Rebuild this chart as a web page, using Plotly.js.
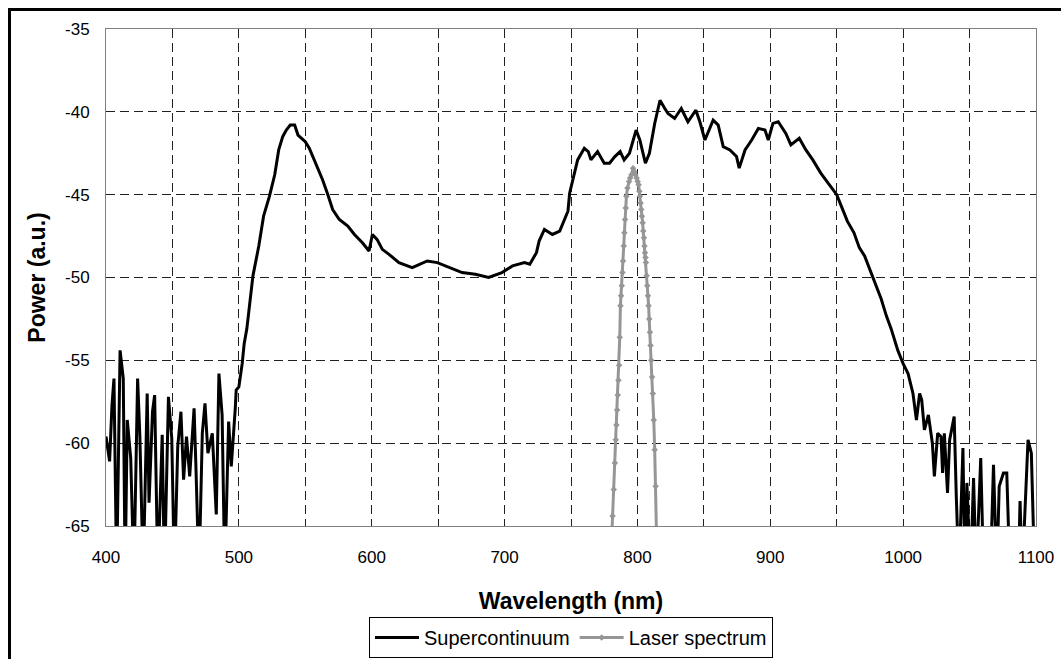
<!DOCTYPE html>
<html>
<head>
<meta charset="utf-8">
<script src="https://cdn.plot.ly/plotly-3.0.1.min.js"></script>
<style>
  html, body { margin: 0; padding: 0; background: #fff; }
  #wrap { position: relative; width: 1061px; height: 659px; overflow: hidden; }
  #chart { position: absolute; left: 0; top: 0; width: 1061px; height: 659px; }
  #frameTop { position: absolute; left: 8px; top: 8px; width: 1100px; height: 3px; background: #000; }
  #frameLeft { position: absolute; left: 8px; top: 8px; width: 3px; height: 700px; background: #000; }
</style>
</head>
<body>
<div id="wrap">
  <div id="chart"></div>
  <div id="frameTop"></div>
  <div id="frameLeft"></div>
</div>
<script>
// Supercontinuum spectrum (wavelength nm, power a.u.) — values below -65 are clipped by the axis
const scWavelength = [
  400, 402.7, 404.5, 406, 408, 410.6, 413, 414.4, 416, 418.6, 421, 423.8, 425.5, 428, 431, 432.4,
  435, 436.6, 439, 442.3, 444, 447, 449.5, 451.5, 454, 456.4, 458.4, 460.6, 463, 466.3, 467.6,
  470, 472.5, 474.5, 476.7, 480, 483, 485, 487.4, 489.4, 492.3, 494.3, 497.3, 498, 500, 502.5,
  504, 506, 510.6, 515, 518.6, 523, 527, 530, 533, 535.7, 538.7, 542, 544.5, 550, 553, 558, 563,
  567, 570.6, 575.6, 582, 587, 593, 598, 600.5, 604, 608, 613, 620.5, 630.5, 635.6, 641.8, 649.4,
  658, 668, 678, 688, 698, 706, 715, 719, 724, 726, 730, 736, 741.5, 745, 747.7, 749, 751.5, 755,
  760, 763, 765, 770, 775, 779, 783, 787, 790, 794, 799, 801.8, 806, 809, 813, 817, 820.6, 823,
  828, 833, 838, 844, 847, 850.8, 857, 860.8, 864.6, 869.6, 874.6, 876.6, 881, 886, 891, 896,
  898.5, 902, 906, 911.7, 915.5, 921.8, 926.8, 932, 938, 944.5, 950, 953, 958, 963, 967, 971,
  974.7, 978.5, 983.5, 987.3, 991, 996, 1000, 1003.7, 1007.4, 1010, 1012.4, 1014, 1016, 1019,
  1022, 1023.5, 1026, 1028.5, 1029.7, 1031, 1033.4, 1035, 1038.4, 1040, 1042, 1045, 1046.5,
  1048, 1050.7, 1053, 1055, 1058.4, 1060.6, 1065.6, 1068, 1070.5, 1072.3, 1075.5, 1078, 1080.4,
  1086.6, 1088, 1089.6, 1094, 1096.5, 1099
];
const scPower = [
  -59.6, -61.1, -57.7, -56.1, -68, -54.4, -56.1, -68, -58.6, -60.9, -68, -56.1, -59.6, -68, -57.0, -63.6,
  -58.1, -57.1, -68, -59.5, -68, -57.2, -59.7, -68, -60.2, -58.1, -62.2, -59.6, -62.0, -57.9, -61.2,
  -68, -59.4, -57.6, -60.6, -59.4, -64.3, -55.8, -58.3, -68, -58.7, -61.4, -57.9, -56.8, -56.6, -55.2,
  -54.0, -53.1, -49.9, -48.1, -46.3, -45.1, -43.8, -42.3, -41.5, -41.1, -40.8, -40.8, -41.4, -41.8, -42.2, -43.1, -44.1,
  -45.0, -45.9, -46.5, -46.9, -47.4, -47.9, -48.4, -47.4, -47.7, -48.3, -48.6, -49.1, -49.4, -49.2, -49.0, -49.1,
  -49.4, -49.7, -49.8, -50.0, -49.7, -49.3, -49.1, -49.2, -48.5, -47.8, -47.1, -47.4, -47.2, -46.5, -46.0, -44.9, -44.0, -42.9,
  -42.2, -42.4, -42.9, -42.4, -43.1, -43.1, -42.7, -42.4, -42.9, -42.5, -41.1, -41.7, -43.1, -42.5, -40.7, -39.3, -39.8, -40.1,
  -40.4, -39.8, -40.6, -39.9, -40.6, -41.7, -40.5, -40.8, -42.1, -42.3, -42.7, -43.4, -42.3, -41.7, -41.0, -41.1,
  -41.7, -40.7, -40.6, -41.3, -42.0, -41.6, -42.3, -42.9, -43.7, -44.4, -45.0, -45.6, -46.6, -47.3, -48.2, -48.7,
  -49.5, -50.3, -51.3, -52.3, -53.1, -54.4, -55.2, -55.8, -57.0, -58.6, -57.0, -57.4, -59.2, -58.3,
  -60.0, -62.0, -59.4, -59.6, -61.8, -59.4, -63.0, -59.8, -58.4, -63.2, -68, -60.3, -68,
  -62.4, -68, -62.1, -68, -60.9, -68, -68, -61.3, -68, -62.6, -61.8, -61.8, -68,
  -68, -63.5, -68, -59.8, -60.6, -68
];

// Laser spectrum (pump), wavelength nm / power a.u.
const laserWavelength = [
  780.5, 781.3, 782.2, 783.0, 783.7, 784.2, 784.7, 785.2, 785.7, 786.2, 786.7, 787.2, 787.7,
  788.2, 788.7, 789.2, 789.7, 790.2, 790.7, 791.2, 791.7, 792.5, 793.7, 794.5, 795.5, 796.7,
  797.6, 798.5, 799.4, 800.2, 800.9, 801.4, 801.9, 802.4, 802.9, 803.4, 803.9, 804.4, 804.9,
  805.3, 805.7, 806.1, 806.4, 806.9, 807.4, 807.9, 808.4, 808.9, 809.4, 809.9, 810.4, 811.0,
  811.6, 812.3, 813.0, 813.7, 814.5
];
const laserPower = [
  -66.0, -64.4, -62.8, -61.2, -59.8, -58.9, -58.0, -57.1, -56.2, -55.3, -53.6, -51.7, -51.1,
  -50.5, -49.7, -49.0, -48.1, -47.3, -46.5, -45.8, -45.1, -44.6, -44.2, -44.0, -43.8, -43.4,
  -43.6, -43.8, -44.0, -44.2, -44.4, -44.8, -45.1, -45.5, -45.9, -46.3, -46.7, -47.2, -47.6,
  -48.1, -48.5, -48.8, -49.1, -49.9, -50.5, -51.1, -51.7, -52.5, -53.3, -54.1, -55.0, -56.0,
  -57.0, -58.6, -60.4, -62.6, -66.0
];

// Axis ticks
const xTicks = [400, 500, 600, 700, 800, 900, 1000, 1100];
const yTicks = [-35, -40, -45, -50, -55, -60, -65];

const traces = [
  {
    x: scWavelength, y: scPower, type: 'scatter', mode: 'lines',
    name: 'Supercontinuum',
    line: { color: '#000000', width: 3 }
  },
  {
    x: laserWavelength, y: laserPower, type: 'scatter', mode: 'lines+markers',
    name: 'Laser spectrum',
    line: { color: '#969696', width: 3 },
    marker: { symbol: 'diamond', size: 5, color: '#969696' }
  }
];

const font = 'Liberation Sans, Arial, sans-serif';
const gridDash = '9px,5px';
const layout = {
  width: 1061, height: 659,
  margin: { l: 106, r: 25, t: 29, b: 133, autoexpand: false },
  paper_bgcolor: '#ffffff', plot_bgcolor: '#ffffff',
  font: { family: font, color: '#000000', size: 16 },
  showlegend: true,
  legend: {
    orientation: 'h', x: 0.5, xanchor: 'center', y: -0.183, yanchor: 'top',
    bordercolor: '#000000', borderwidth: 1, bgcolor: '#ffffff',
    font: { family: font, size: 20, color: '#000' },
    itemwidth: 44, tracegroupgap: 0
  },
  xaxis: {
    range: [400, 1100], tickvals: xTicks, ticktext: xTicks.map(String),
    showgrid: true, gridcolor: '#202020', gridwidth: 1, griddash: gridDash,
    showline: true, linecolor: '#808080', linewidth: 1, mirror: true,
    zeroline: false, ticks: '', ticklen: 0, ticklabelstandoff: 16, automargin: false,
    tickfont: { family: font, size: 17 },
    title: { text: '<b>Wavelength (nm)</b>', font: { family: font, size: 23 }, standoff: 26 },
    minor: { dtick: 50, tick0: 400, showgrid: true, gridcolor: '#202020', gridwidth: 1, griddash: gridDash, ticks: '' }
  },
  yaxis: {
    range: [-65, -35], tickvals: yTicks, ticktext: yTicks.map(String),
    showgrid: true, gridcolor: '#202020', gridwidth: 1, griddash: gridDash,
    showline: true, linecolor: '#808080', linewidth: 1, mirror: true,
    zeroline: false, ticks: '', ticklen: 0, ticklabelstandoff: 12, automargin: false,
    tickfont: { family: font, size: 17 },
    title: { text: '<b>Power (a.u.)</b>', font: { family: font, size: 23 }, standoff: 12 }
  }
};

Plotly.newPlot('chart', traces, layout, { displayModeBar: false, staticPlot: true });
</script>
</body>
</html>
